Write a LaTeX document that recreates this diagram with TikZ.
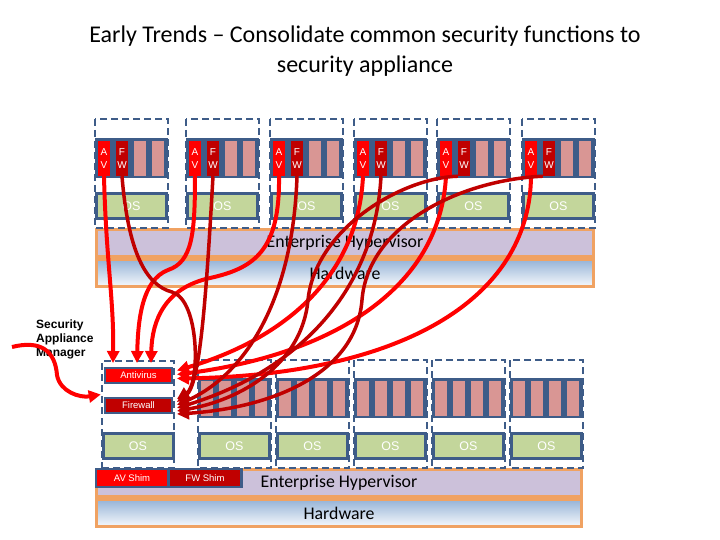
\documentclass[tikz,border=0pt]{standalone}
\usepackage{fontspec}
\setmainfont{Carlito}
\setsansfont{Liberation Sans}
\usetikzlibrary{arrows.meta,positioning,calc}

\definecolor{oscuro}{HTML}{3E5C88}
\definecolor{rosa}{HTML}{D99694}
\definecolor{verdeos}{HTML}{C3D69B}
\definecolor{lila}{HTML}{CCC1DA}
\definecolor{naranja}{HTML}{F0A262}
\definecolor{azulhw}{HTML}{95B3D7}
\definecolor{rojo}{HTML}{FF0000}
\definecolor{rojooscuro}{HTML}{C00000}

\begin{document}
\begin{tikzpicture}[
            x=1pt, y=-1pt,
            marco/.style={draw=oscuro, line width=2.5pt, dash pattern=on 7pt off 4pt},
            ranura/.style={minimum width=12pt, minimum height=35pt, inner sep=0pt, text=white, align=center, font=\sffamily\fontsize{10}{13}\selectfont},
            sistema/.style={draw=oscuro, line width=3pt, fill=verdeos, minimum width=70pt, minimum height=25pt, inner sep=0pt, text=white, font=\sffamily\fontsize{12.5}{14}\selectfont},
            capa/.style={draw=naranja, line width=3pt, inner sep=0pt, minimum height=27pt, font=\fontsize{17.8}{20}\selectfont},
            bloque/.style={draw=oscuro, line width=2pt, inner sep=0pt, minimum width=67pt, minimum height=15pt, text=white, font=\sffamily\fontsize{9.5}{11}\selectfont},
            flecha/.style={-{Triangle[length=12pt,width=12pt]}},
            flechaav/.style={flecha, draw=rojo, line width=4pt},
            flechafw/.style={flecha, draw=rojooscuro, line width=3.5pt}
        ]

        % Fondo y marco de la imagen
        \fill[white] (0,0) rectangle (720,540);
        \useasboundingbox (0,0) rectangle (720,540);

        % Titulo
        \node[align=center, font=\fontsize{24}{30}\selectfont] (titulo) at (365,51)
        {Early Trends -- Consolidate common security functions to\\security appliance};

        % Capas del servidor superior
        \node[capa, fill=lila, minimum width=497pt] (hiper) at (345,243) {Enterprise Hypervisor};
        \node[capa, top color=azulhw, bottom color=white!92!azulhw, minimum width=497pt] (hw) at (345,273) {Hardware};

        % Maquinas virtuales con AV y FW propios
        \foreach \x [count=\i] in {95,186,270,354,437,522}{
            \draw[marco] (\x,119) rectangle ++(73,109);
            \fill[oscuro] (\x,138) rectangle ++(73,40);
            \fill[rosa] ({\x+39},141) rectangle ++(12,35);
            \fill[rosa] ({\x+57},141) rectangle ++(12,35);
            \node[ranura, fill=rojo] (av\i) at ({\x+9},158.5) {A\\V};
            \node[ranura, fill=rojooscuro] (fw\i) at ({\x+27},158.5) {F\\W};
            \node[sistema] (os\i) at ({\x+36.5},206) {OS};
        }

        % Capas del servidor inferior
        \node[capa, fill=lila, minimum width=485pt] (hiperb) at (339,483) {Enterprise Hypervisor};
        \node[capa, top color=azulhw, bottom color=white!92!azulhw, minimum width=485pt] (hwb) at (339,513) {Hardware};

        % Maquinas virtuales sin funciones de seguridad
        \foreach \x [count=\i] in {198,276,354,432,510}{
            \draw[marco] (\x,360) rectangle ++(73,108);
            \fill[oscuro] (\x,378) rectangle ++(73,40);
            \foreach \d in {3,21,39,57}
                \fill[rosa] ({\x+\d},381) rectangle ++(12,35);
            \node[sistema] (osb\i) at ({\x+36.5},446) {OS};
        }

        % Appliance de seguridad
        \node[marco, minimum width=72pt, minimum height=107pt] (appliance) at (138,414.5) {};
        \node[bloque, fill=rojo] (antivirus) at (138.5,375.5) {Antivirus};
        \node[bloque, fill=rojooscuro] (firewall) at (138.5,405) {Firewall};
        \node[sistema] (osap) at (138,446) {OS};

        % Shims en el hipervisor
        \fill[oscuro] (95,468) rectangle (243,488);
        \node[bloque, draw=none, fill=rojo, minimum width=70pt, minimum height=16pt] (avshim) at (132,478) {AV Shim};
        \node[bloque, draw=none, fill=rojooscuro, minimum width=70pt, minimum height=16pt] (fwshim) at (205,478) {FW Shim};

        % Gestor del appliance
        \node[anchor=west, align=left, inner sep=0pt, font=\sffamily\bfseries\fontsize{12}{14}\selectfont] (manager) at (36,339)
        {Security\\Appliance\\Manager};
        \coordinate (origen) at (12,347);

        % Flechas de antivirus
        \draw[flechaav] (av1.south) .. controls (106,260) and (114,300) .. ([xshift=9pt,yshift=4pt]antivirus.north west);
        \draw[flechaav] (av2.south) .. controls (195,235) and (192,262) .. (168,270) .. controls (142,280) and (138,320) .. ([xshift=33pt,yshift=4pt]antivirus.north west);
        \draw[flechaav] (av3.south) .. controls (280,250) and (255,268) .. (210,278) .. controls (165,288) and (152,320) .. ([xshift=47pt,yshift=4pt]antivirus.north west);
        \draw[flechaav] (av4.south) .. controls (358,280) and (280,340) .. ([xshift=4pt,yshift=5pt]antivirus.east);
        \draw[flechaav] (av5.south) .. controls (440,290) and (330,355) .. ([xshift=4pt,yshift=1pt]antivirus.east);
        \draw[flechaav] (av6.south) .. controls (530,300) and (400,375) .. ([xshift=4pt,yshift=-3pt]antivirus.east);

        % Flechas de firewall
        \draw[flechafw] (fw1.south) .. controls (128,250) and (145,285) .. (172,292) .. controls (200,300) and (200,385) .. ([xshift=4pt,yshift=6pt]firewall.east);
        \draw[flechafw] (fw2.south) .. controls (206,300) and (200,385) .. ([xshift=4pt,yshift=3pt]firewall.east);
        \draw[flechafw] (fw3.south) .. controls (293,300) and (245,375) .. ([xshift=4pt]firewall.east);
        \draw[flechafw] (fw4.south) .. controls (375,290) and (300,370) .. ([xshift=4pt,yshift=-3pt]firewall.east);
        \draw[flechafw] (fw5.south west) .. controls (400,178) and (315,230) .. (308,300) .. controls (302,365) and (240,400) .. ([xshift=4pt,yshift=-6pt]firewall.east);
        \draw[flechafw] (fw6.south west) .. controls (460,180) and (368,225) .. (362,300) .. controls (356,375) and (270,408) .. ([xshift=4pt,yshift=-9pt]firewall.east);

        % Flecha del gestor
        \draw[flecha, draw=rojo, line width=4pt] (origen) .. controls (40,340) and (55,350) .. (57,375) .. controls (60,392) and (80,398) .. ([yshift=20pt]appliance.west);

    \end{tikzpicture}
\end{document}
